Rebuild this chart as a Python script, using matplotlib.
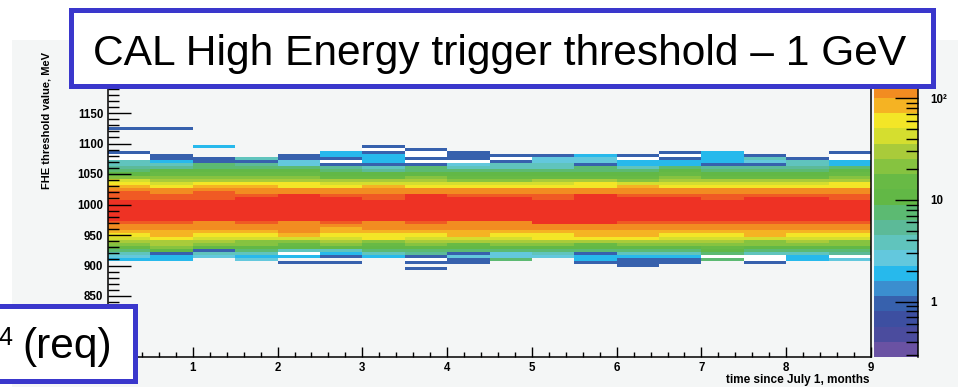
import matplotlib.pyplot as plt
import numpy as np
from matplotlib.colors import ListedColormap, BoundaryNorm
from matplotlib.patches import Rectangle
from matplotlib.ticker import MultipleLocator, NullFormatter, LogLocator

plt.rcParams['font.family'] = ['Liberation Sans', 'DejaVu Sans']

_ = None  # empty bin (not drawn)

# half-month time bins, threshold bins centred every 5 MeV (1125 MeV down to 890 MeV)
month_edges = np.arange(0, 9.5, 0.5)
threshold_centres = np.arange(1125, 885, -5)

# entries per bin, one list per half month, from 1125 MeV down to 890 MeV (0 = white bin)
counts_by_bin = [
    [1, _, _, _, _, _, _, _, 1, 0, 0, 4, 4,
     5, 9, 11, 22, 38, 60, 85, 120, 160, 185, 200, 240, 255, 260, 255, 245, 230, 210,
     180, 140, 120, 100, 60, 40, 27, 20, 13, 9, 4, 3, 2, _, _, _, _],
    [1, _, _, _, _, _, _, _, _, 1, 1, 2, 4,
     5, 10, 13, 18, 30, 50, 70, 110, 130, 165, 190, 215, 240, 255, 260, 250, 240, 215,
     175, 135, 115, 100, 80, 55, 35, 27, 19, 10, 1, 2, 2, _, _, _, _],
    [_, _, _, _, _, _, 2, _, _, _, 1, 1, 7,
     9, 11, 14, 22, 30, 55, 80, 110, 150, 170, 190, 225, 250, 260, 255, 245, 230, 205,
     130, 120, 110, 90, 60, 40, 30, 18, 11, 1, 4, 3, _, _, _, _, _],
    [_, _, _, _, _, _, _, _, _, _, 4, 1, 6,
     9, 11, 14, 20, 27, 55, 75, 110, 130, 165, 205, 235, 250, 260, 255, 250, 235, 215,
     160, 120, 110, 95, 65, 45, 25, 18, 12, 8, 4, 2, 3, _, _, _, _],
    [_, _, _, _, _, _, _, _, _, 1, 1, 3, 3,
     8, 10, 13, 22, 30, 55, 65, 110, 130, 205, 220, 240, 255, 260, 255, 245, 230, 210,
     140, 125, 115, 105, 90, 45, 20, 15, 10, 4, 0, 2, _, 1, _, _, _],
    [_, _, _, _, _, _, _, _, 2, 2, 1, 0, 1,
     6, 9, 12, 17, 26, 50, 65, 105, 125, 165, 205, 235, 250, 260, 255, 245, 235, 210,
     165, 140, 95, 85, 60, 45, 30, 18, 12, 4, 2, 1, _, 1, _, _, _],
    [_, _, _, _, _, _, 1, 0, 1, 2, 2, 2, 1,
     4, 6, 12, 15, 28, 45, 80, 110, 135, 160, 175, 220, 245, 260, 260, 250, 235, 210,
     135, 120, 110, 90, 65, 55, 22, 16, 11, 8, 4, 2, _, _, _, _, _],
    [_, _, _, _, _, _, _, 1, 0, 0, 1, 0, 1,
     7, 9, 12, 20, 30, 50, 70, 105, 130, 205, 220, 240, 255, 260, 255, 245, 230, 210,
     170, 130, 110, 90, 60, 40, 27, 19, 12, 9, 6, 1, 0, 1, _, 1, _],
    [_, _, _, _, _, _, _, _, 1, 1, 1, 0, 3,
     4, 8, 11, 14, 25, 45, 60, 110, 130, 160, 205, 235, 250, 260, 255, 245, 230, 210,
     130, 120, 110, 90, 75, 40, 28, 17, 11, 8, 1, 3, 1, 1, _, _, _],
    [_, _, _, _, _, _, _, _, _, 1, 0, 1, 4,
     4, 8, 11, 15, 24, 40, 60, 105, 125, 165, 205, 235, 250, 260, 255, 245, 235, 205,
     135, 120, 110, 90, 60, 40, 27, 18, 12, 9, 3, 3, 7, _, _, _, _],
    [_, _, _, _, _, _, _, _, _, 1, 3, 3, 4,
     4, 8, 11, 16, 26, 50, 65, 105, 130, 165, 190, 230, 250, 260, 255, 250, 235, 215,
     205, 140, 110, 95, 65, 55, 30, 18, 12, 9, 4, 3, _, _, _, _, _],
    [_, _, _, _, _, _, _, _, _, 2, 3, 3, 1,
     7, 9, 12, 17, 26, 55, 60, 105, 125, 205, 220, 240, 255, 260, 255, 250, 235, 215,
     205, 125, 110, 95, 80, 55, 30, 17, 11, 8, 1, 2, 2, 1, _, _, _],
    [_, _, _, _, _, _, _, _, _, 1, 0, 2, 2,
     4, 7, 11, 15, 24, 40, 80, 110, 130, 160, 210, 235, 250, 260, 255, 245, 235, 210,
     170, 125, 110, 90, 80, 55, 30, 18, 12, 8, 4, 2, 1, 1, 1, _, _],
    [_, _, _, _, _, _, _, _, 1, 0, 1, 2, 2,
     8, 10, 13, 18, 30, 50, 70, 105, 130, 170, 210, 235, 250, 260, 255, 245, 235, 215,
     185, 125, 110, 95, 65, 50, 27, 18, 12, 8, 4, 2, 1, 1, _, _, _],
    [_, _, _, _, _, _, _, _, 2, 2, 2, 2, 1,
     5, 7, 12, 16, 28, 45, 60, 105, 130, 155, 180, 225, 250, 260, 255, 245, 235, 210,
     185, 125, 110, 95, 60, 50, 30, 20, 13, 10, 8, 0, 8, _, _, _, _],
    [_, _, _, _, _, _, _, _, _, 1, 4, 3, 1,
     6, 9, 12, 17, 28, 50, 65, 105, 130, 170, 205, 235, 250, 260, 255, 245, 235, 210,
     200, 130, 110, 90, 75, 45, 25, 18, 12, 8, 4, 0, 0, 1, _, _, _],
    [_, _, _, _, _, _, _, _, _, _, 1, 4, 4,
     6, 9, 12, 17, 28, 50, 65, 110, 130, 170, 205, 235, 250, 260, 255, 245, 235, 210,
     175, 130, 110, 95, 65, 50, 28, 18, 12, 8, 4, 2, 2, _, _, _, _],
    [_, _, _, _, _, _, _, _, 1, 0, 0, 2, 2,
     8, 10, 13, 18, 30, 55, 70, 110, 135, 160, 185, 225, 250, 260, 255, 245, 235, 210,
     170, 140, 115, 100, 70, 42, 25, 18, 12, 8, 5, 0, 3, _, _, _, _],
]

# axis labels that are not covered by the overlay boxes
x_tick_values = list(range(1, 10))
y_tick_values = [850, 900, 950, 1000, 1050, 1100, 1150]

z_min, z_max = 0.285, 285.0

palette = ['#6a52a3', '#4b4c9e', '#3d4fa1', '#3761ad', '#3b8ecf', '#27b9ec', '#63c8dd',
           '#60c4bd', '#5cba98', '#5cba72', '#62b846', '#68ba45', '#86c340', '#a9cb3a',
           '#d5de2f', '#f3e627', '#f5b323', '#f28c21', '#f05a24', '#ee3224']

W, H = 958, 387
fig = plt.figure(figsize=(W / 100, H / 100), dpi=100)


def fx(px):
    return px / W


def fy(py):
    return 1 - py / H


canvas_grey = '#f4f6f6'
fig.patches.append(Rectangle((fx(12), 0), 1 - fx(12), fy(40), transform=fig.transFigure,
                             facecolor=canvas_grey, edgecolor='none', zorder=-5))

ax = fig.add_axes([fx(108), fy(357), fx(871) - fx(108), fy(52) - fy(357)])
ax.set_facecolor('none')

cmap = ListedColormap(palette)
cmap.set_under('white')
levels = np.logspace(np.log10(z_min), np.log10(z_max), len(palette) + 1)
norm = BoundaryNorm(levels, cmap.N)

grid = np.ma.masked_invalid(np.array(counts_by_bin, dtype=float).T)
y_edges = np.append(threshold_centres + 2.5, threshold_centres[-1] - 2.5)
ax.pcolormesh(month_edges, y_edges, grid, cmap=cmap, norm=norm,
              edgecolors='none', antialiased=False)

ax.set_xlim(0, 9)
ax.set_ylim(750, 1250)
ax.set_xticks(x_tick_values)
ax.set_xticks([0, 9], minor=True)
ax.xaxis.set_minor_locator(MultipleLocator(0.2))
ax.set_yticks(y_tick_values)
ax.yaxis.set_minor_locator(MultipleLocator(10))
ax.tick_params(which='both', direction='in', width=1, colors='black',
               labelsize=8.3)
ax.tick_params(axis='x', which='major', length=7.2, pad=3.5)
ax.tick_params(axis='x', which='minor', length=3.6)
ax.tick_params(axis='y', which='major', length=16.5, pad=3.5)
ax.tick_params(axis='y', which='minor', length=8)
for lab in ax.get_xticklabels() + ax.get_yticklabels():
    lab.set_fontweight('bold')
for sp in ax.spines.values():
    sp.set_linewidth(1.1)

# colour scale
cax = fig.add_axes([fx(874), fy(357), fx(918) - fx(874), fy(52) - fy(357)])
mids = np.sqrt(levels[:-1] * levels[1:])
cax.pcolormesh([0, 1], levels, mids[:, None], cmap=cmap, norm=norm,
               edgecolors='none', antialiased=False)
cax.set_yscale('log')
cax.set_ylim(z_min, z_max)
cax.set_xlim(0, 1)
cax.set_xticks([])
for side in ['left', 'top', 'bottom']:
    cax.spines[side].set_visible(False)
cax.spines['right'].set_linewidth(1.1)
cax.yaxis.tick_right()
cax.set_yticks([1, 10, 100])
cax.set_yticklabels(['1', '10', '10\u00b2'])
cax.yaxis.set_minor_locator(LogLocator(base=10, subs=np.arange(2, 10)))
cax.yaxis.set_minor_formatter(NullFormatter())
cax.tick_params(which='both', direction='in', width=1, colors='black', labelsize=8.3)
cax.tick_params(which='major', length=16.5, pad=9)
cax.tick_params(which='minor', length=9)
for lab in cax.get_yticklabels():
    lab.set_fontweight('bold')

fig.text(fx(47), fy(52), 'FHE threshold value, MeV', rotation=90, ha='center', va='top',
         fontsize=8, fontweight='bold')
fig.text(fx(870), fy(380), 'time since July 1, months', ha='right', va='center',
         fontsize=8.5, fontweight='bold')

# overlay boxes
box_blue = '#3a37cc'
fig.patches.append(Rectangle((fx(70.8), fy(85.8)), fx(932.5) - fx(70.8), fy(9.8) - fy(85.8),
                             transform=fig.transFigure, facecolor='white',
                             edgecolor=box_blue, linewidth=3.6, zorder=5))
fig.text(fx(500), fy(65), 'CAL High Energy trigger threshold \u2013 1 GeV', ha='center',
         va='baseline', fontsize=30.6, zorder=6)

fig.patches.append(Rectangle((fx(-20), fy(380.8)), fx(134.8) - fx(-20), fy(305.8) - fy(380.8),
                             transform=fig.transFigure, facecolor='white',
                             edgecolor=box_blue, linewidth=3.6, zorder=5))
fig.text(fx(12.5), fy(345), '4', ha='right', va='baseline', fontsize=18, zorder=6)
fig.text(fx(22), fy(358), '(req)', ha='left', va='baseline', fontsize=30.6, zorder=6)

fig.savefig('out.png', dpi=100)
